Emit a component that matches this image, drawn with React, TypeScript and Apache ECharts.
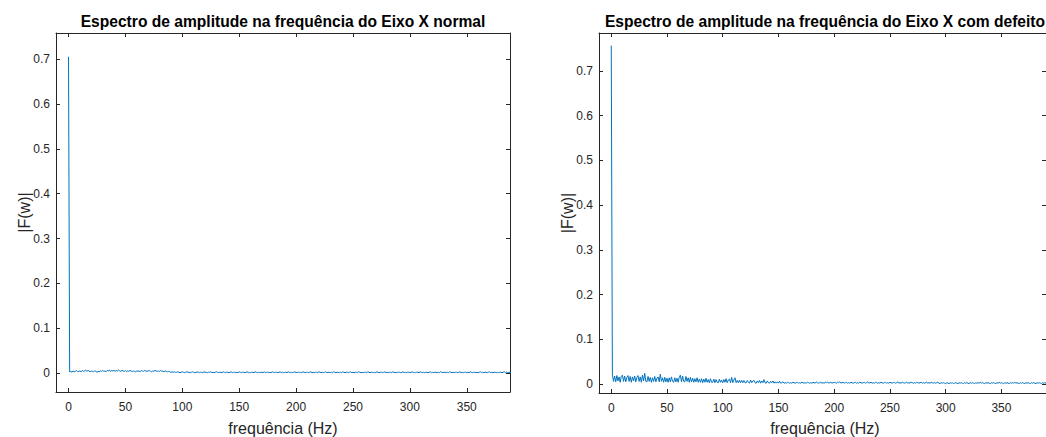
import React, { useEffect, useRef } from "react";
import * as echarts from "echarts";

// frequency bin spacing (Hz)
const FREQ_STEP = 1;

// |F(w)| of the normal shaft (bin 0 .. 390)
const normalAmp = [
  0.705,
  0.003, 0.004, 0.002, 0.005, 0.003, 0.004, 0.006, 0.003, 0.004, 0.005, 0.003, 0.006, 0.004, 0.005, 0.007, 0.004, 0.006, 0.005, 0.003, 0.005,
  0.004, 0.003, 0.005, 0.004, 0.002, 0.004, 0.003, 0.005, 0.004, 0.006, 0.004, 0.005, 0.003, 0.006, 0.005, 0.007, 0.004, 0.006, 0.005, 0.006,
  0.004, 0.006, 0.005, 0.007, 0.005, 0.004, 0.006, 0.005, 0.004, 0.006, 0.003, 0.005, 0.004, 0.006, 0.005, 0.003, 0.005, 0.004, 0.003, 0.005,
  0.004, 0.005, 0.003, 0.006, 0.005, 0.004, 0.006, 0.005, 0.004, 0.005, 0.006, 0.004, 0.003, 0.005, 0.004, 0.006, 0.005, 0.004, 0.005, 0.004,
  0.006, 0.004, 0.005, 0.003, 0.005, 0.004, 0.003, 0.004, 0.003, 0.002, 0.003, 0.002, 0.003, 0.002, 0.002, 0.003, 0.002, 0.001, 0.002, 0.003,
  0.002, 0.001, 0.002, 0.003, 0.002, 0.002, 0.001, 0.002, 0.003, 0.002, 0.001, 0.002, 0.002, 0.003, 0.001, 0.002, 0.002, 0.001, 0.003, 0.002,
  0.002, 0.001, 0.002, 0.002, 0.003, 0.001, 0.002, 0.001, 0.002, 0.003, 0.002, 0.001, 0.002, 0.002, 0.001, 0.003, 0.002, 0.001, 0.002, 0.002,
  0.001, 0.002, 0.003, 0.001, 0.002, 0.002, 0.001, 0.002, 0.001, 0.003, 0.002, 0.001, 0.002, 0.002, 0.001, 0.002, 0.003, 0.001, 0.002, 0.001,
  0.002, 0.002, 0.001, 0.003, 0.002, 0.001, 0.002, 0.001, 0.002, 0.002, 0.001, 0.003, 0.001, 0.002, 0.002, 0.001, 0.002, 0.001, 0.003, 0.002,
  0.001, 0.002, 0.002, 0.001, 0.002, 0.003, 0.001, 0.002, 0.001, 0.002, 0.002, 0.001, 0.003, 0.002, 0.001, 0.002, 0.001, 0.002, 0.003, 0.001,
  0.002, 0.002, 0.001, 0.002, 0.001, 0.003, 0.002, 0.001, 0.002, 0.002, 0.001, 0.002, 0.003, 0.001, 0.002, 0.001, 0.002, 0.002, 0.001, 0.003,
  0.002, 0.001, 0.002, 0.001, 0.002, 0.003, 0.001, 0.002, 0.002, 0.001, 0.002, 0.001, 0.003, 0.002, 0.001, 0.002, 0.002, 0.001, 0.002, 0.001,
  0.003, 0.002, 0.001, 0.002, 0.002, 0.001, 0.002, 0.003, 0.001, 0.002, 0.001, 0.002, 0.002, 0.001, 0.003, 0.002, 0.001, 0.002, 0.001, 0.002,
  0.002, 0.001, 0.003, 0.002, 0.001, 0.002, 0.002, 0.001, 0.002, 0.001, 0.003, 0.002, 0.001, 0.002, 0.002, 0.001, 0.002, 0.003, 0.001, 0.002,
  0.001, 0.002, 0.002, 0.001, 0.003, 0.002, 0.001, 0.002, 0.001, 0.002, 0.002, 0.001, 0.002, 0.003, 0.001, 0.002, 0.001, 0.002, 0.002, 0.001,
  0.002, 0.003, 0.001, 0.002, 0.001, 0.002, 0.002, 0.001, 0.003, 0.002, 0.001, 0.002, 0.001, 0.002, 0.002, 0.001, 0.002, 0.003, 0.001, 0.002,
  0.001, 0.002, 0.002, 0.001, 0.002, 0.001, 0.003, 0.002, 0.001, 0.002, 0.002, 0.001, 0.002, 0.001, 0.003, 0.002, 0.001, 0.002, 0.001, 0.002,
  0.002, 0.001, 0.002, 0.003, 0.001, 0.002, 0.001, 0.002, 0.002, 0.001, 0.002, 0.001, 0.003, 0.002, 0.001, 0.002, 0.002, 0.001, 0.002, 0.001,
  0.002, 0.003, 0.001, 0.002, 0.001, 0.002, 0.002, 0.001, 0.002, 0.003, 0.001, 0.002, 0.001, 0.002, 0.002, 0.001, 0.002, 0.001, 0.002, 0.002,
  0.001, 0.002, 0.003, 0.001, 0.002, 0.001, 0.002, 0.002, 0.001, 0.002,
];

// |F(w)| of the defective shaft (bin 0 .. 390)
const defectAmp = [
  0.757,
  0.021, 0.006, 0.018, 0.005, 0.019, 0.007, 0.016, 0.004, 0.017, 0.020, 0.006, 0.018, 0.005, 0.015, 0.019, 0.006, 0.017, 0.004, 0.016, 0.007,
  0.018, 0.005, 0.015, 0.019, 0.006, 0.016, 0.004, 0.020, 0.007, 0.024, 0.006, 0.005, 0.017, 0.006, 0.015, 0.004, 0.014, 0.006, 0.017, 0.005,
  0.013, 0.016, 0.005, 0.022, 0.006, 0.014, 0.004, 0.015, 0.005, 0.013, 0.004, 0.014, 0.005, 0.016, 0.006, 0.004, 0.014, 0.005, 0.013, 0.004,
  0.015, 0.020, 0.005, 0.018, 0.006, 0.005, 0.017, 0.006, 0.014, 0.004, 0.015, 0.005, 0.013, 0.004, 0.012, 0.005, 0.014, 0.004, 0.011, 0.004,
  0.012, 0.003, 0.011, 0.004, 0.013, 0.004, 0.010, 0.003, 0.012, 0.004, 0.004, 0.011, 0.003, 0.010, 0.004, 0.003, 0.011, 0.004, 0.009, 0.003,
  0.010, 0.004, 0.012, 0.003, 0.009, 0.011, 0.003, 0.015, 0.003, 0.009, 0.014, 0.003, 0.008, 0.003, 0.009, 0.003, 0.008, 0.003, 0.008, 0.003,
  0.003, 0.008, 0.004, 0.002, 0.009, 0.003, 0.007, 0.008, 0.003, 0.002, 0.007, 0.003, 0.008, 0.002, 0.007, 0.003, 0.010, 0.003, 0.002, 0.007,
  0.003, 0.002, 0.006, 0.003, 0.007, 0.002, 0.005, 0.002, 0.005, 0.002, 0.006, 0.002, 0.003, 0.005, 0.002, 0.003, 0.002, 0.004, 0.003, 0.002,
  0.003, 0.002, 0.004, 0.003, 0.002, 0.003, 0.004, 0.002, 0.003, 0.002, 0.004, 0.003, 0.002, 0.003, 0.002, 0.004, 0.003, 0.002, 0.003, 0.002,
  0.004, 0.003, 0.002, 0.005, 0.003, 0.002, 0.003, 0.004, 0.002, 0.003, 0.002, 0.004, 0.003, 0.005, 0.002, 0.003, 0.004, 0.002, 0.003, 0.004,
  0.003, 0.002, 0.004, 0.003, 0.005, 0.002, 0.003, 0.004, 0.002, 0.003, 0.004, 0.002, 0.003, 0.002, 0.004, 0.003, 0.002, 0.003, 0.004, 0.002,
  0.003, 0.002, 0.004, 0.003, 0.002, 0.003, 0.004, 0.002, 0.003, 0.005, 0.002, 0.003, 0.004, 0.002, 0.003, 0.002, 0.004, 0.003, 0.002, 0.003,
  0.002, 0.004, 0.003, 0.002, 0.003, 0.004, 0.002, 0.003, 0.002, 0.004, 0.003, 0.002, 0.003, 0.004, 0.002, 0.003, 0.005, 0.002, 0.003, 0.002,
  0.004, 0.003, 0.002, 0.003, 0.004, 0.002, 0.003, 0.002, 0.004, 0.003, 0.002, 0.003, 0.002, 0.004, 0.003, 0.002, 0.003, 0.004, 0.002, 0.003,
  0.002, 0.003, 0.004, 0.002, 0.003, 0.002, 0.004, 0.003, 0.002, 0.003, 0.002, 0.003, 0.004, 0.002, 0.001, 0.003, 0.002, 0.003, 0.002, 0.001,
  0.003, 0.002, 0.001, 0.003, 0.002, 0.003, 0.001, 0.002, 0.003, 0.002, 0.001, 0.003, 0.002, 0.003, 0.002, 0.001, 0.003, 0.002, 0.003, 0.002,
  0.001, 0.003, 0.002, 0.003, 0.002, 0.001, 0.003, 0.002, 0.003, 0.002, 0.004, 0.002, 0.003, 0.002, 0.001, 0.003, 0.002, 0.003, 0.002, 0.001,
  0.003, 0.002, 0.003, 0.002, 0.001, 0.003, 0.002, 0.004, 0.002, 0.003, 0.002, 0.001, 0.003, 0.002, 0.003, 0.002, 0.001, 0.003, 0.002, 0.003,
  0.002, 0.004, 0.002, 0.003, 0.002, 0.001, 0.003, 0.002, 0.003, 0.002, 0.001, 0.003, 0.002, 0.003, 0.002, 0.001, 0.003, 0.002, 0.003, 0.002,
  0.001, 0.003, 0.002, 0.003, 0.002, 0.001, 0.003, 0.002, 0.003, 0.002,
];

const xTicks = [0, 50, 100, 150, 200, 250, 300, 350];
const yTicks = [0, 0.1, 0.2, 0.3, 0.4, 0.5, 0.6, 0.7];
const titles = [
  "Espectro de amplitude na frequência do Eixo X normal",
  "Espectro de amplitude na frequência do Eixo X com defeito",
];
const xName = "frequência (Hz)";
const yName = "|F(w)|";

const FONT = "'Liberation Sans', Arial, Helvetica, sans-serif";
const AX = "#262626";
const LINE = "#0072BD";

const grids = [
  { left: 56, top: 33, width: 454, height: 359, xMin: -11, xMax: 388, yMin: -0.042, yMax: 0.758, yLabX: 24 },
  { left: 599, top: 33, width: 452, height: 360, xMin: -11, xMax: 390, yMin: -0.02, yMax: 0.785, yLabX: 567 },
];

export default function App() {
  const ref = useRef<HTMLDivElement>(null);
  useEffect(() => {
    if (!ref.current) return;
    const chart = echarts.init(ref.current, undefined, { renderer: "svg" });
    const xAxes: any[] = [];
    const yAxes: any[] = [];
    const graphics: any[] = [];
    grids.forEach((g, gi) => {
      const lineStyle = { color: AX, width: 1 };
      xAxes.push({
        type: "value", gridIndex: gi, position: "bottom", min: g.xMin, max: g.xMax,
        axisLine: { show: true, onZero: false, lineStyle },
        axisTick: { show: true, inside: true, length: 4, customValues: xTicks, lineStyle },
        axisLabel: { customValues: xTicks, color: AX, fontSize: 12, margin: 9, fontFamily: FONT },
        splitLine: { show: false },
      });
      xAxes.push({
        type: "value", gridIndex: gi, position: "top", min: g.xMin, max: g.xMax,
        axisLine: { show: true, onZero: false, lineStyle },
        axisTick: { show: true, inside: true, length: 4, customValues: xTicks, lineStyle },
        axisLabel: { show: false },
        splitLine: { show: false },
      });
      yAxes.push({
        type: "value", gridIndex: gi, position: "left", min: g.yMin, max: g.yMax,
        axisLine: { show: true, onZero: false, lineStyle },
        axisTick: { show: true, inside: true, length: 4, customValues: yTicks, lineStyle },
        axisLabel: { customValues: yTicks, color: AX, fontSize: 12, margin: 6, fontFamily: FONT },
        splitLine: { show: false },
      });
      yAxes.push({
        type: "value", gridIndex: gi, position: "right", min: g.yMin, max: g.yMax,
        axisLine: { show: true, onZero: false, lineStyle },
        axisTick: { show: true, inside: true, length: 4, customValues: yTicks, lineStyle },
        axisLabel: { show: false },
        splitLine: { show: false },
      });
      const cx = g.left + g.width / 2;
      graphics.push({
        type: "text", x: cx, y: 21,
        style: { text: titles[gi], fill: "#000", font: `bold 15.6px ${FONT}`, align: "center", verticalAlign: "middle" },
      });
      graphics.push({
        type: "text", x: cx, y: 428,
        style: { text: xName, fill: AX, font: `16px ${FONT}`, align: "center", verticalAlign: "middle" },
      });
      graphics.push({
        type: "text", x: g.yLabX, y: g.top + g.height / 2, rotation: Math.PI / 2,
        style: { text: yName, fill: AX, font: `16px ${FONT}`, align: "center", verticalAlign: "middle" },
      });
    });
    const toPts = (arr: number[]) => arr.map((v, i) => [i * FREQ_STEP, v]);
    chart.setOption({
      animation: false,
      backgroundColor: "#fff",
      grid: grids.map((g) => ({ left: g.left, top: g.top, width: g.width, height: g.height, containLabel: false })),
      xAxis: xAxes,
      yAxis: yAxes,
      series: [
        { type: "line", xAxisIndex: 0, yAxisIndex: 0, data: toPts(normalAmp), showSymbol: false, symbol: "none", lineStyle: { color: LINE, width: 1 }, clip: true },
        { type: "line", xAxisIndex: 2, yAxisIndex: 2, data: toPts(defectAmp), showSymbol: false, symbol: "none", lineStyle: { color: LINE, width: 1 }, clip: true },
      ],
      graphic: graphics,
    });
    return () => chart.dispose();
  }, []);
  return <div ref={ref} style={{ position: "absolute", left: 0, top: 0, width: 1046, height: 437 }} />;
}
